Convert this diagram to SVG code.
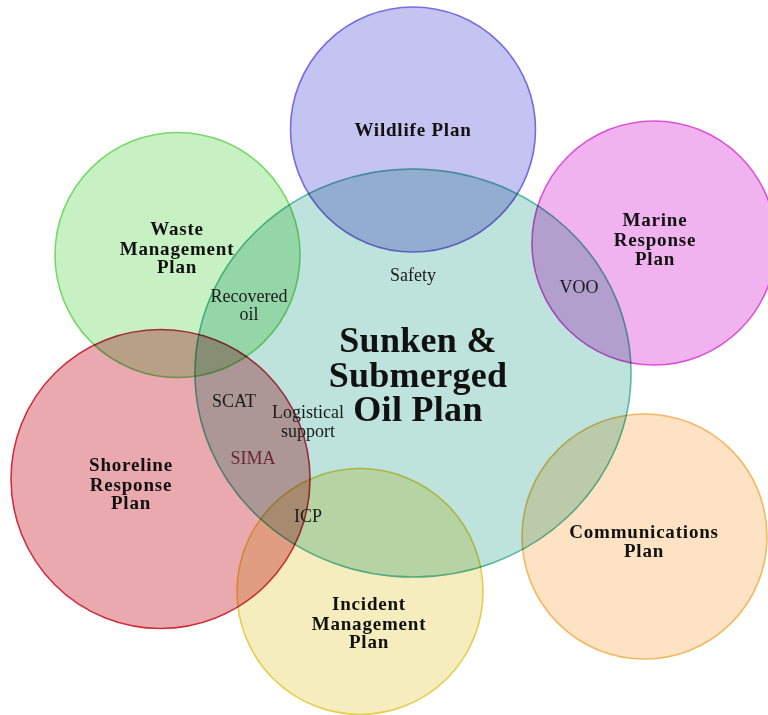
<svg xmlns="http://www.w3.org/2000/svg" width="768" height="715" viewBox="0 0 768 715">
  <style>
    .disc { stroke-width: 1.6; mix-blend-mode: multiply; }
    .title { font-family: "Liberation Serif", "Times New Roman", serif; font-weight: bold; font-size: 19px; fill: #111; text-anchor: middle; letter-spacing: 0.8px; }
    .main { font-family: "Liberation Serif", "Times New Roman", serif; font-weight: bold; font-size: 36px; fill: #111; text-anchor: middle; letter-spacing: 0.3px; }
    .note { font-family: "Liberation Serif", "Times New Roman", serif; font-size: 18px; fill: #1a1a1a; text-anchor: middle; }
    .sima { fill: #6a2535; }
  </style>
  <rect width="768" height="715" fill="#ffffff"/>

  <g id="sunken-submerged-oil-plan">
    <ellipse class="disc" cx="413" cy="373" rx="218" ry="204" fill="#bde3dc" stroke="#58b8a4"/>
  </g>

  <g id="wildlife-plan">
    <circle class="disc" cx="413" cy="129.5" r="122.5" fill="#c5c3f1" stroke="#786ddc"/>
    <text class="title" x="413" y="136">Wildlife Plan</text>
  </g>

  <g id="marine-response-plan">
    <circle class="disc" cx="654" cy="243" r="122" fill="#f1b3ef" stroke="#dc52d6"/>
    <text class="title" y="226"><tspan x="655">Marine</tspan><tspan x="655" dy="20">Response</tspan><tspan x="655" dy="19">Plan</tspan></text>
  </g>

  <g id="waste-management-plan">
    <circle class="disc" cx="177.5" cy="255" r="122.5" fill="#c8f1c3" stroke="#78d86a"/>
    <text class="title" y="235"><tspan x="177">Waste</tspan><tspan x="177" dy="20">Management</tspan><tspan x="177" dy="18">Plan</tspan></text>
  </g>

  <g id="shoreline-response-plan">
    <circle class="disc" cx="160.5" cy="479" r="149.5" fill="#e9a9ae" stroke="#cc3040"/>
    <text class="title" y="471"><tspan x="131">Shoreline</tspan><tspan x="131" dy="20">Response</tspan><tspan x="131" dy="18">Plan</tspan></text>
  </g>

  <g id="communications-plan">
    <circle class="disc" cx="644.5" cy="536.5" r="122.5" fill="#fde3c4" stroke="#f4b863"/>
    <text class="title" y="538"><tspan x="644">Communications</tspan><tspan x="644" dy="19">Plan</tspan></text>
  </g>

  <g id="incident-management-plan">
    <circle class="disc" cx="360" cy="591.5" r="123" fill="#f6edbe" stroke="#e6cd4c"/>
    <text class="title" y="610"><tspan x="369">Incident</tspan><tspan x="369" dy="20">Management</tspan><tspan x="369" dy="18">Plan</tspan></text>
  </g>

  <!-- central title and shared-area labels sit above every disc -->
  <g id="central-title">
    <text class="main" y="352"><tspan x="418">Sunken &amp;</tspan><tspan x="418" dy="35">Submerged</tspan><tspan x="418" dy="34">Oil Plan</tspan></text>
  </g>

  <g id="connectors">
    <text class="note" x="413" y="281">Safety</text>
    <text class="note" x="579" y="293">VOO</text>
    <text class="note" y="302"><tspan x="249">Recovered</tspan><tspan x="249" dy="18">oil</tspan></text>
    <text class="note" x="234" y="407">SCAT</text>
    <text class="note" y="418"><tspan x="308">Logistical</tspan><tspan x="308" dy="19">support</tspan></text>
    <text class="note sima" x="253" y="464">SIMA</text>
    <text class="note" x="308" y="522">ICP</text>
  </g>
</svg>
